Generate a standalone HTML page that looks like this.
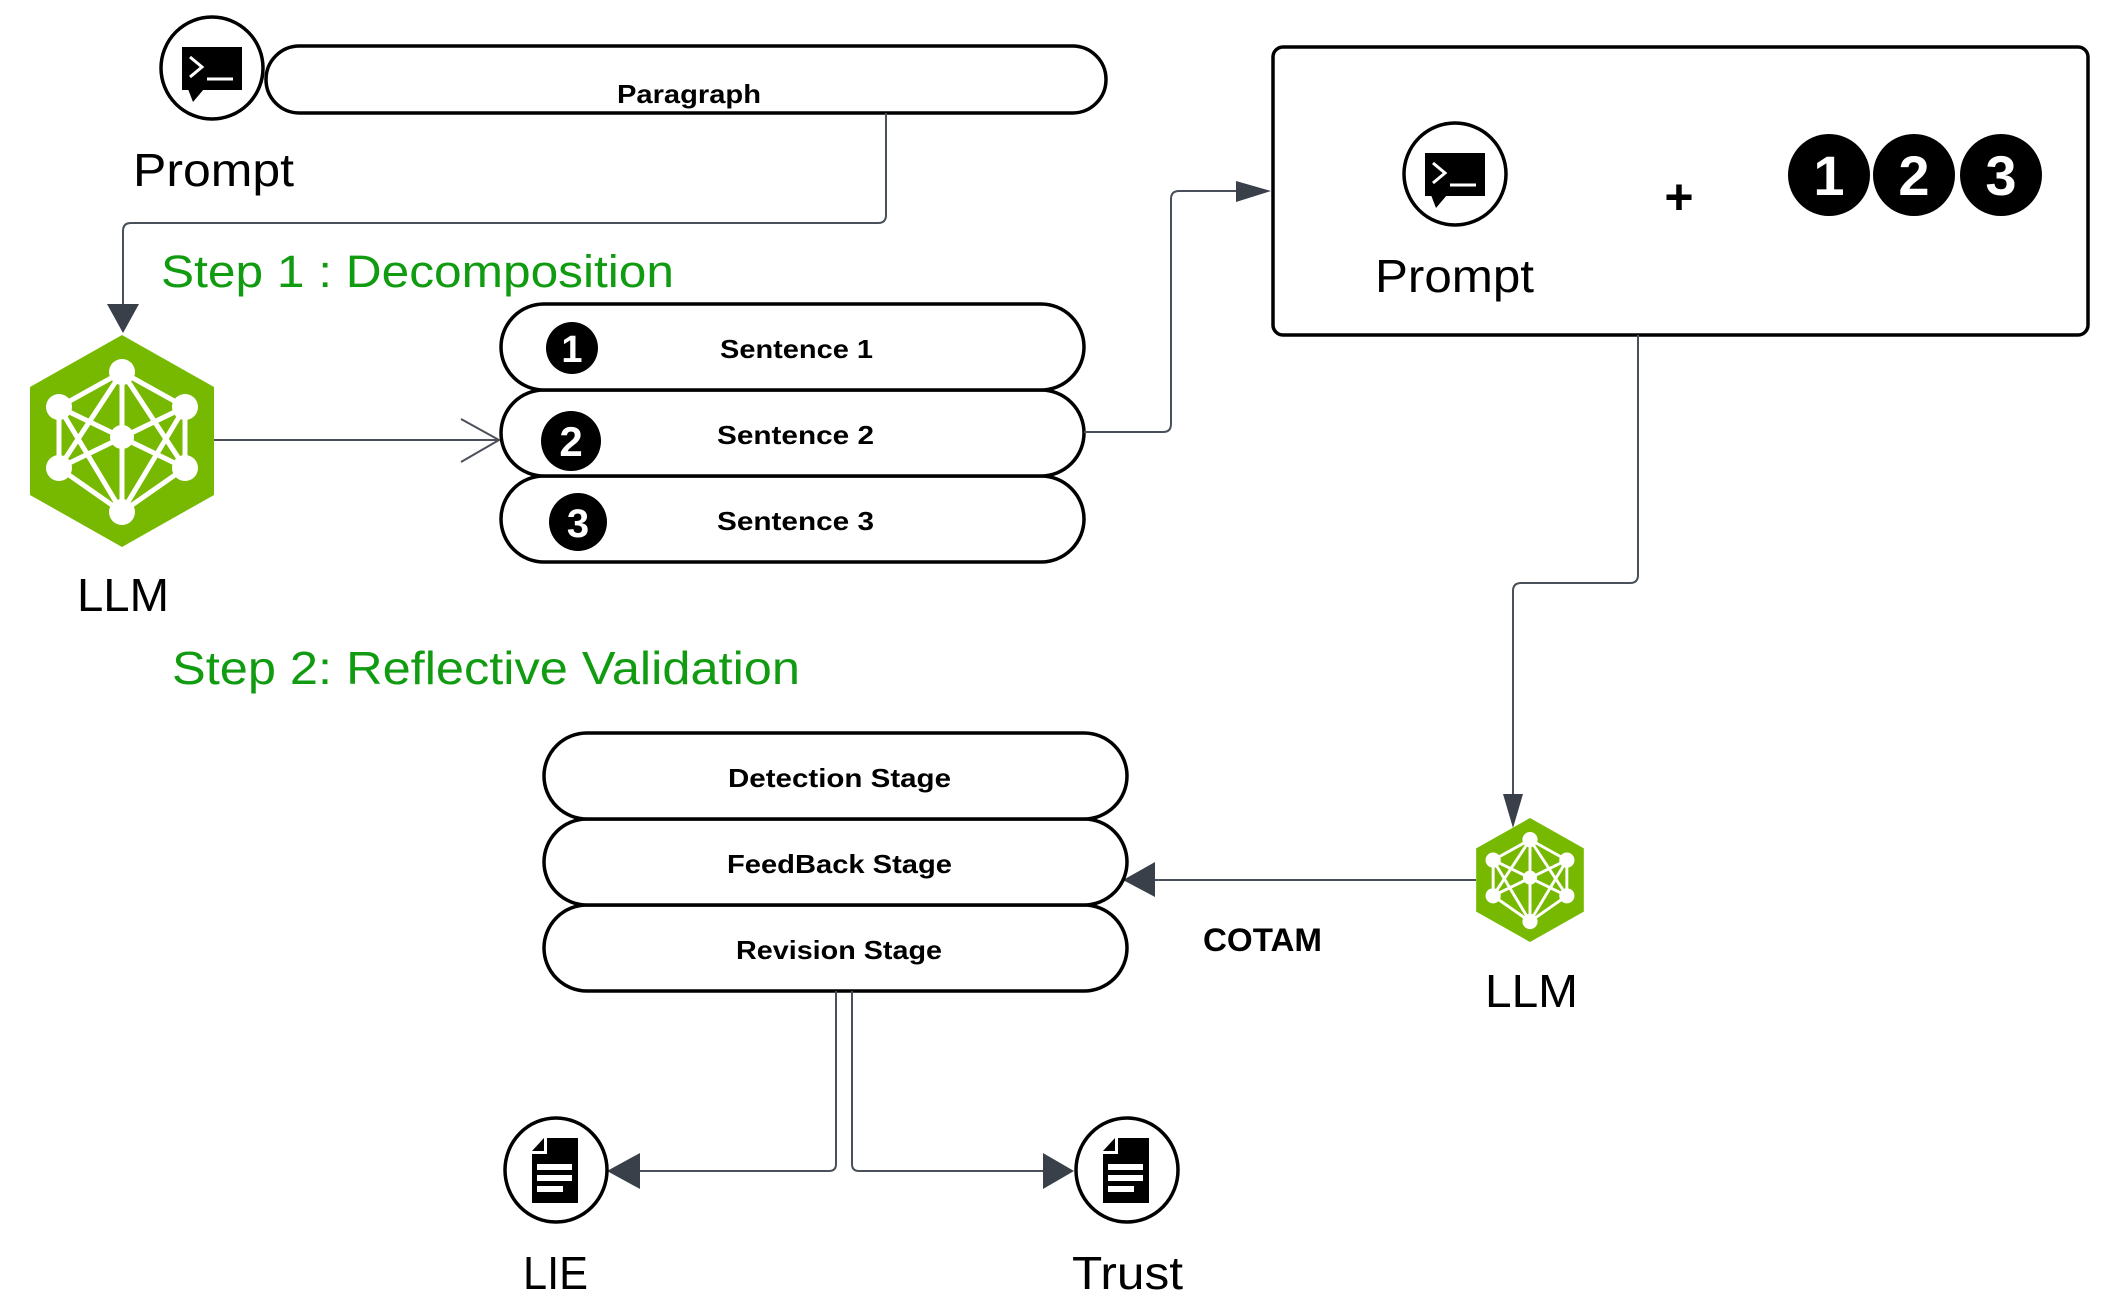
<!DOCTYPE html>
<html><head><meta charset="utf-8"><style>
html,body{margin:0;padding:0;background:#fff;}
svg{display:block;}
text{font-family:"Liberation Sans",sans-serif;}
</style></head><body>
<svg width="2116" height="1310" viewBox="0 0 2116 1310" xmlns="http://www.w3.org/2000/svg">
<defs>
<g id="hex">
  <polygon points="0,-106 92,-54 92,54 0,106 -92,54 -92,-54" fill="#76b900"/>
  <g stroke="#fff" stroke-width="5" fill="none">
    <line x1="0" y1="-69" x2="-63" y2="-34"/><line x1="0" y1="-69" x2="63" y2="-34"/>
    <line x1="0" y1="-69" x2="-63" y2="27"/><line x1="0" y1="-69" x2="63" y2="27"/>
    <line x1="0" y1="-69" x2="0" y2="71"/>
    <line x1="0" y1="71" x2="-63" y2="-34"/><line x1="0" y1="71" x2="63" y2="-34"/>
    <line x1="0" y1="71" x2="-63" y2="27"/><line x1="0" y1="71" x2="63" y2="27"/>
    <line x1="-63" y1="-34" x2="-63" y2="27"/><line x1="63" y1="-34" x2="63" y2="27"/>
    <line x1="-63" y1="-34" x2="63" y2="27"/><line x1="63" y1="-34" x2="-63" y2="27"/>
  </g>
  <g fill="#fff">
    <circle cx="0" cy="-69" r="13"/><circle cx="-63" cy="-34" r="13"/><circle cx="63" cy="-34" r="13"/>
    <circle cx="0" cy="-4" r="12"/><circle cx="-63" cy="27" r="13"/><circle cx="63" cy="27" r="13"/>
    <circle cx="0" cy="71" r="13"/>
  </g>
</g>
<g id="prompt">
  <circle cx="0" cy="0" r="51" fill="#fff" stroke="#000" stroke-width="3.5"/>
  <rect x="-30" y="-21" width="60" height="43" fill="#000"/>
  <polygon points="-24,21 -19,34 -8,21" fill="#000"/>
  <polyline points="-22,-11 -10,-1 -22,9" stroke="#fff" stroke-width="3" fill="none"/>
  <line x1="-5" y1="11" x2="21" y2="11" stroke="#fff" stroke-width="3"/>
</g>
<g id="doc">
  <ellipse cx="0" cy="0" rx="51" ry="52" fill="#fff" stroke="#000" stroke-width="3.5"/>
  <polygon points="-24,-19 -12,-32 -12,-19" fill="#000"/>
  <polygon points="-9,-32 22,-32 22,33 -24,33 -24,-16 -9,-16" fill="#000"/>
  <rect x="-19" y="-6" width="35" height="6" fill="#fff"/>
  <rect x="-19" y="5" width="35" height="6" fill="#fff"/>
  <rect x="-19" y="16" width="26" height="6" fill="#fff"/>
</g>
</defs>

<rect x="266" y="46" width="840" height="67" rx="33.5" fill="#fff" stroke="#000" stroke-width="3.5"/>
<use href="#prompt" x="212" y="68"/>
<text x="617" y="103" font-size="26" font-weight="bold" textLength="144" lengthAdjust="spacingAndGlyphs">Paragraph</text>
<text x="133" y="186" font-size="46" textLength="161" lengthAdjust="spacingAndGlyphs">Prompt</text>

<path d="M886 113 V215 Q886 223 878 223 H131 Q123 223 123 231 V306" stroke="#4a5059" stroke-width="2" fill="none"/>
<polygon points="107,304 139,304 123,333" fill="#3a404a"/>

<text x="161" y="287" font-size="45" fill="#119b11" textLength="513" lengthAdjust="spacingAndGlyphs">Step 1 : Decomposition</text>

<use href="#hex" x="122" y="441"/>
<text x="77" y="611" font-size="46" textLength="92" lengthAdjust="spacingAndGlyphs">LLM</text>

<line x1="214" y1="440" x2="499" y2="440" stroke="#4a5059" stroke-width="2"/>
<polyline points="461,419 499,440 461,462" stroke="#4a5059" stroke-width="2" fill="none"/>

<rect x="501" y="476" width="583" height="86" rx="43" fill="#fff" stroke="#000" stroke-width="3.5"/>
<rect x="501" y="390" width="583" height="86" rx="43" fill="#fff" stroke="#000" stroke-width="3.5"/>
<rect x="501" y="304" width="583" height="86" rx="43" fill="#fff" stroke="#000" stroke-width="3.5"/>
<circle cx="572" cy="348" r="26" fill="#000"/><text x="572" y="362" font-size="38" font-weight="bold" fill="#fff" text-anchor="middle">1</text>
<circle cx="571" cy="441" r="30" fill="#000"/><text x="571" y="456" font-size="42" font-weight="bold" fill="#fff" text-anchor="middle">2</text>
<circle cx="578" cy="522" r="29" fill="#000"/><text x="578" y="537" font-size="40" font-weight="bold" fill="#fff" text-anchor="middle">3</text>
<text x="720" y="358" font-size="26" font-weight="bold" textLength="153" lengthAdjust="spacingAndGlyphs">Sentence 1</text>
<text x="717" y="444" font-size="26" font-weight="bold" textLength="157" lengthAdjust="spacingAndGlyphs">Sentence 2</text>
<text x="717" y="530" font-size="26" font-weight="bold" textLength="157" lengthAdjust="spacingAndGlyphs">Sentence 3</text>

<path d="M1084 432 H1163 Q1171 432 1171 424 V199 Q1171 191 1179 191 H1240" stroke="#4a5059" stroke-width="2" fill="none"/>
<polygon points="1236,181 1271,191 1236,202" fill="#3a404a"/>

<rect x="1273" y="47" width="815" height="288" rx="10" fill="#fff" stroke="#000" stroke-width="3.5"/>
<use href="#prompt" x="1455" y="174"/>
<text x="1375" y="292" font-size="46" textLength="159" lengthAdjust="spacingAndGlyphs">Prompt</text>
<text x="1679" y="214" font-size="50" font-weight="bold" text-anchor="middle">+</text>
<circle cx="1829" cy="175" r="41" fill="#000"/><text x="1829" y="195" font-size="56" font-weight="bold" fill="#fff" text-anchor="middle">1</text>
<circle cx="1914" cy="175" r="41" fill="#000"/><text x="1914" y="195" font-size="56" font-weight="bold" fill="#fff" text-anchor="middle">2</text>
<circle cx="2001" cy="175" r="41" fill="#000"/><text x="2001" y="195" font-size="56" font-weight="bold" fill="#fff" text-anchor="middle">3</text>

<path d="M1638 335 V575 Q1638 583 1630 583 H1521 Q1513 583 1513 591 V800" stroke="#4a5059" stroke-width="2" fill="none"/>
<polygon points="1503,794 1523,794 1513,828" fill="#3a404a"/>

<text x="172" y="684" font-size="46" fill="#119b11" textLength="628" lengthAdjust="spacingAndGlyphs">Step 2: Reflective Validation</text>

<use href="#hex" transform="translate(1530,880) scale(0.585)"/>
<text x="1485" y="1007" font-size="46" textLength="93" lengthAdjust="spacingAndGlyphs">LLM</text>

<line x1="1476" y1="880" x2="1150" y2="880" stroke="#4a5059" stroke-width="2"/>
<polygon points="1155,862 1155,897 1123,880" fill="#3a404a"/>
<text x="1203" y="951" font-size="32" font-weight="bold" textLength="119" lengthAdjust="spacingAndGlyphs">COTAM</text>

<rect x="544" y="905" width="583" height="86" rx="43" fill="#fff" stroke="#000" stroke-width="3.5"/>
<rect x="544" y="819" width="583" height="86" rx="43" fill="#fff" stroke="#000" stroke-width="3.5"/>
<rect x="544" y="733" width="583" height="86" rx="43" fill="#fff" stroke="#000" stroke-width="3.5"/>
<text x="728" y="787" font-size="26" font-weight="bold" textLength="223" lengthAdjust="spacingAndGlyphs">Detection Stage</text>
<text x="727" y="873" font-size="26" font-weight="bold" textLength="225" lengthAdjust="spacingAndGlyphs">FeedBack Stage</text>
<text x="736" y="959" font-size="26" font-weight="bold" textLength="206" lengthAdjust="spacingAndGlyphs">Revision Stage</text>

<path d="M836 991 V1164 Q836 1171 829 1171 H630" stroke="#4a5059" stroke-width="2" fill="none"/>
<polygon points="640,1153 640,1189 607,1171" fill="#3a404a"/>
<path d="M852 991 V1164 Q852 1171 859 1171 H1050" stroke="#4a5059" stroke-width="2" fill="none"/>
<polygon points="1043,1153 1043,1189 1074,1171" fill="#3a404a"/>

<use href="#doc" x="556" y="1170"/>
<use href="#doc" x="1127" y="1170"/>
<text x="523" y="1289" font-size="46" textLength="65" lengthAdjust="spacingAndGlyphs">LIE</text>
<text x="1072" y="1289" font-size="46" textLength="111" lengthAdjust="spacingAndGlyphs">Trust</text>
</svg>
</body></html>
